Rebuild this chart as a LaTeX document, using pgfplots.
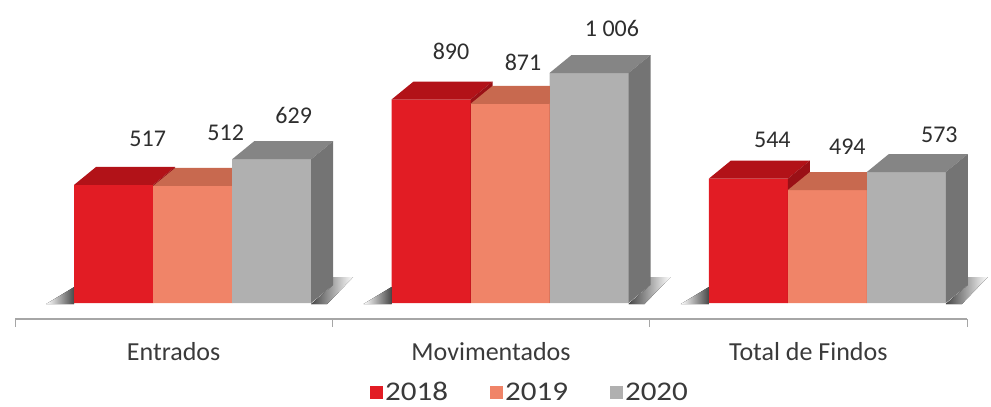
\documentclass[border=0pt]{standalone}
\usepackage{pgfplots}
\pgfplotsset{compat=1.18}
\usepackage{pgfplotstable}
\usepackage{fontspec}
\setmainfont{Carlito}
\newfontfamily\legfont{Carlito}[FakeStretch=1.15]

% face colours: front, top, side
\definecolor{redF}{HTML}{E21C24}
\definecolor{redT}{HTML}{B21218}
\definecolor{redS}{HTML}{9A1016}
\definecolor{salF}{HTML}{F08468}
\definecolor{salT}{HTML}{C8694F}
\definecolor{salS}{HTML}{B25C46}
\definecolor{gryF}{HTML}{B0B0B0}
\definecolor{gryT}{HTML}{858585}
\definecolor{gryS}{HTML}{747474}
\definecolor{axgray}{HTML}{A6A6A6}
\definecolor{txt}{HTML}{2E2E2E}
\definecolor{lbl}{HTML}{3A3A3A}

% bar geometry in pt: half width, depth offsets, pt per unit of value
\def\hw{39.5}
\def\dx{22}
\def\dy{18}
\def\yu{0.2286}

% x = category, v = value, lx/ly = label offset from the bar's top edge
\pgfplotstableread{
x v lx ly
0 517 34 46
1 890 20 48
2 544 24 39
}\yrA
\pgfplotstableread{
x v lx ly
0 512 33 53
1 871 13 42
2 494 20 43
}\yrB
\pgfplotstableread{
x v lx ly
0 629 22 44
1 1006 23 45
2 573 33 37
}\yrC

% a bar with depth: the ybar gives the front face; the faces of the box
% and the value label are drawn again from the bar's top centre, so that
% each later bar covers the side of the bar before it
\pgfplotsset{
  box3d/.style n args={5}{% front, top, side, shift (pt), floor shadow code
    ybar, bar width=79pt, bar shift=#4pt, fill=#1, draw=none,
    visualization depends on={\thisrow{v} \as \bv},
    visualization depends on={\thisrow{lx} \as \lx},
    visualization depends on={\thisrow{ly} \as \ly},
    nodes near coords={\tikz[overlay]{%
        \pgfmathsetmacro\bh{\bv*\yu}%
        #5
        \fill[#1] (-\hw pt,0pt) rectangle (\hw pt,-\bh pt);
        \fill[#2] (-\hw pt,0pt) -- ++(\dx pt,\dy pt) -- ++(2*\hw pt,0pt)
                  -- (\hw pt,0pt) -- cycle;
        \fill[#3] (\hw pt,0pt) -- ++(\dx pt,\dy pt) -- ++(0pt,-\bh pt)
                  -- (\hw pt,-\bh pt) -- cycle;
        \node[inner sep=0pt, anchor=center, font=\fontsize{24}{28}\selectfont, text=txt]
          at (\lx pt,\ly pt)
          {\pgfmathprintnumber[1000 sep={\ }, assume math mode=true, fixed, precision=0]{\bv}};
      }},
    every node near coord/.append style={anchor=center, inner sep=0pt,
      outer sep=0pt, xshift=#4pt},
    legend image code/.code={\fill[#1] (0pt,-6.5pt) rectangle (13pt,6.5pt);},
  },
}

\begin{document}
\begin{tikzpicture}
\begin{axis}[
  x=317.33pt, y=0.2286pt,
  xmin=-0.5, xmax=2.5, ymin=-70, ymax=1325.5,
  axis x line*=bottom, axis y line=none,
  axis line style={axgray, line width=1.3pt},
  xtick={0,1,2},
  xticklabels={Entrados, Movimentados, Total de Findos},
  major tick length=0pt,
  minor xtick={-0.5,0.5,1.5,2.5},
  minor tick length=8pt,
  tick align=outside,
  minor x tick style={axgray, line width=1pt},
  xticklabel style={font=\fontsize{26}{30}\selectfont, text=lbl,
    anchor=base, yshift=-41pt},
  clip=false,
  legend columns=3,
  legend style={at={(0.541,-0.229)}, anchor=center, draw=none, fill=none,
    font=\legfont\fontsize{27}{30}\selectfont, text=lbl,
    nodes={inner sep=2pt},
    /tikz/every even column/.append style={column sep=40pt}},
]
% 2018, with the floor shadow at the left of each group
\addplot[box3d={redF}{redT}{redS}{-60}{%
  \shade[left color=white, right color=black!72]
    (-\hw pt-28pt,-\bh pt-1pt) -- (-\hw pt,-\bh pt-1pt) -- (-\hw pt,-\bh pt+16pt) -- cycle;}]
  table[x=x, y=v] {\yrA};
\addlegendentry{2018}
\addplot[box3d={salF}{salT}{salS}{19}{}]
  table[x=x, y=v] {\yrB};
\addlegendentry{2019}
% 2020, with the floor shadow at the right of each group
\addplot[box3d={gryF}{gryT}{gryS}{98}{%
  \shade[left color=black!72, right color=white]
    (\hw pt,-\bh pt-1pt) -- (\hw pt+\dx pt,-\bh pt+\dy pt)
    -- (\hw pt+\dx pt,-\bh pt+\dy pt+8pt) -- (\hw pt+\dx pt+20pt,-\bh pt+\dy pt+8pt)
    -- (\hw pt+16pt,-\bh pt-1pt) -- cycle;}]
  table[x=x, y=v] {\yrC};
\addlegendentry{2020}
\path ([shift={(-15pt,-83pt)}]rel axis cs:0,0) rectangle ([shift={(24pt,0pt)}]rel axis cs:1,1);
\end{axis}
\end{tikzpicture}
\end{document}
